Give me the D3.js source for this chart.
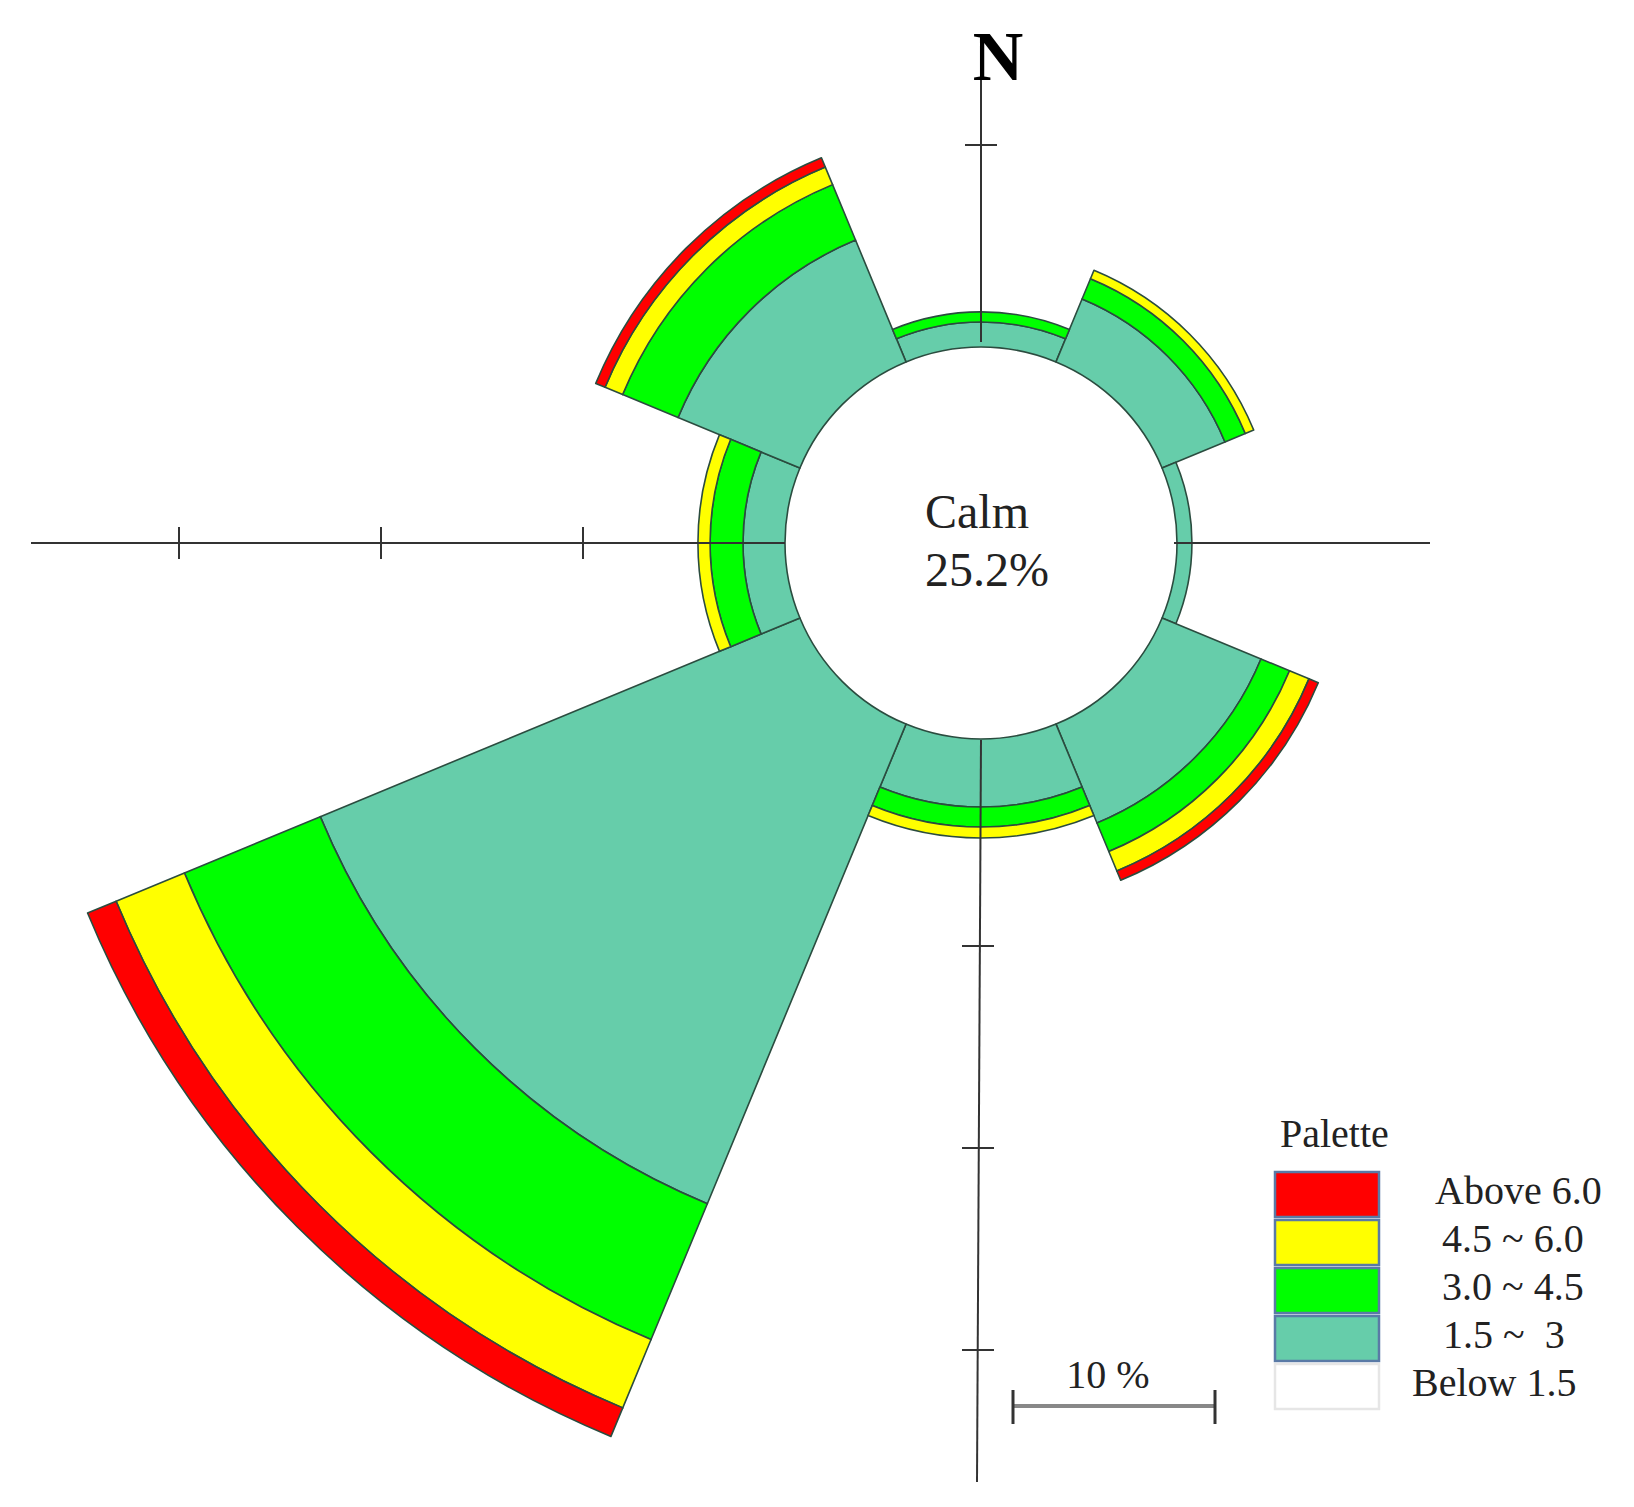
<!DOCTYPE html>
<html lang="en">
<head>
	<meta charset="utf-8" />
	<title>Wind rose</title>
	<script src="https://d3js.org/d3.v7.min.js"></script>
	<style>
		body { margin: 0; background: #fff; }
		text { font-family: "Liberation Serif", "Times New Roman", serif; white-space: pre; }
	</style>
</head>
<body>
	<div id="my_dataviz"></div>

	<script>
		// wind directions, clockwise from north
		var directions = ["N", "NE", "E", "SE", "S", "SW", "W", "NW"];

		// frequency (%) for each speed class, per direction
		var below15 = [0, 0, 0, 0, 0, 0, 0, 0];
		var from15to3 = [1.24, 3.37, 0.74, 5.3, 3.37, 25.7, 2.08, 6.53];
		var from3to45 = [0.5, 1.09, 0, 1.53, 0.99, 7.28, 1.63, 2.97];
		var from45to6 = [0, 0.45, 0, 1.04, 0.54, 3.66, 0.6, 0.94];
		var above6 = [0, 0, 0, 0.5, 0, 1.53, 0, 0.5];

		var calm = "25.2%";

		// legend
		var classKeys = ["above6", "from45to6", "from3to45", "from15to3", "below15"];
		var classLabels = ["Above 6.0", "4.5 ~ 6.0", "3.0 ~ 4.5", "1.5 ~  3", "Below 1.5"];
		var classColors = ["#ff0000", "#ffff00", "#00ff00", "#66cdaa", "#ffffff"];

		// axis ticks (%)
		var leftTicks = [10, 20, 30];
		var bottomTicks = [10, 20, 30];
		var topTicks = [10];
		var scaleBarValue = 10;

		var width = 1634,
			height = 1507,
			cx = 981,
			cy = 543,
			innerR = 196;

		var svg = d3.select("#my_dataviz")
			.append("svg")
			.attr("width", width)
			.attr("height", height);

		svg.append("rect")
			.attr("width", width)
			.attr("height", height)
			.attr("fill", "#fff");

		var g = svg.append("g")
			.attr("transform", "translate(" + cx + "," + cy + ")");

		// radial scale, starting at the calm circle
		var r = d3.scaleLinear()
			.domain([0, 10])
			.range([innerR, innerR + 202]);

		var color = d3.scaleOrdinal()
			.domain(classKeys)
			.range(classColors);

		// rows for the stack
		var rows = directions.map(function(d, i) {
			return {
				dir: d,
				below15: below15[i],
				from15to3: from15to3[i],
				from3to45: from3to45[i],
				from45to6: from45to6[i],
				above6: above6[i]
			};
		});

		var stackKeys = ["below15", "from15to3", "from3to45", "from45to6", "above6"];
		var series = d3.stack().keys(stackKeys)(rows);

		var angle = d3.scaleBand()
			.domain(directions)
			.range([-Math.PI / 8, 2 * Math.PI - Math.PI / 8]);

		var arc = d3.arc()
			.innerRadius(function(d) { return r(d[0]); })
			.outerRadius(function(d) { return r(d[1]); })
			.startAngle(function(d) { return angle(d.data.dir); })
			.endAngle(function(d) { return angle(d.data.dir) + angle.bandwidth(); });

		g.selectAll("g.band")
			.data(series)
			.enter()
			.append("g")
			.attr("class", "band")
			.attr("fill", function(s) { return color(s.key); })
			.selectAll("path")
			.data(function(s) { return s.filter(function(d) { return d[1] - d[0] > 0; }); })
			.enter()
			.append("path")
			.attr("d", arc)
			.attr("stroke", "#2b4c3f")
			.attr("stroke-width", 1.6)
			.attr("stroke-linejoin", "round");

		// axes (outside the calm circle only)
		var axisColor = "#333";
		var axes = [
			{ x1: -innerR, y1: 0, x2: -950, y2: 0 },
			{ x1: innerR - 3, y1: 0, x2: 449, y2: 0 },
			{ x1: 0, y1: -innerR - 5, x2: 0, y2: -465 },
			{ x1: 0, y1: innerR + 1, x2: -4, y2: 939 }
		];
		g.selectAll("line.axis")
			.data(axes)
			.enter()
			.append("line")
			.attr("class", "axis")
			.attr("x1", function(d) { return d.x1; })
			.attr("y1", function(d) { return d.y1; })
			.attr("x2", function(d) { return d.x2; })
			.attr("y2", function(d) { return d.y2; })
			.attr("stroke", axisColor)
			.attr("stroke-width", 2);

		var tickHalf = 16;
		g.selectAll("line.tleft")
			.data(leftTicks)
			.enter()
			.append("line")
			.attr("x1", function(d) { return -r(d); })
			.attr("x2", function(d) { return -r(d); })
			.attr("y1", -tickHalf)
			.attr("y2", tickHalf)
			.attr("stroke", axisColor)
			.attr("stroke-width", 2);

		g.selectAll("line.tbottom")
			.data(bottomTicks)
			.enter()
			.append("line")
			.attr("y1", function(d) { return r(d) + 5; })
			.attr("y2", function(d) { return r(d) + 5; })
			.attr("x1", function(d) { return -tickHalf - 3; })
			.attr("x2", function(d) { return tickHalf - 3; })
			.attr("stroke", axisColor)
			.attr("stroke-width", 2);

		g.selectAll("line.ttop")
			.data(topTicks)
			.enter()
			.append("line")
			.attr("y1", function(d) { return -r(d); })
			.attr("y2", function(d) { return -r(d); })
			.attr("x1", -tickHalf)
			.attr("x2", tickHalf)
			.attr("stroke", axisColor)
			.attr("stroke-width", 2);

		// north label
		g.append("text")
			.attr("x", 17)
			.attr("y", -463)
			.attr("text-anchor", "middle")
			.style("font-size", "70px")
			.style("font-weight", "bold")
			.attr("fill", "#000")
			.text("N");

		// calm label
		g.append("text")
			.attr("x", -56)
			.attr("y", -15)
			.style("font-size", "48px")
			.attr("fill", "#222")
			.text("Calm");
		g.append("text")
			.attr("x", -56)
			.attr("y", 43)
			.style("font-size", "48px")
			.attr("fill", "#222")
			.text(calm);

		// scale bar
		var sbX = 1013, sbY = 1406;
		var sbLen = r(scaleBarValue) - r(0);
		svg.append("line")
			.attr("x1", sbX).attr("x2", sbX + sbLen)
			.attr("y1", sbY).attr("y2", sbY)
			.attr("stroke", "#888")
			.attr("stroke-width", 4);
		svg.selectAll("line.sbend")
			.data([0, sbLen])
			.enter()
			.append("line")
			.attr("x1", function(d) { return sbX + d; })
			.attr("x2", function(d) { return sbX + d; })
			.attr("y1", sbY - 16)
			.attr("y2", sbY + 18)
			.attr("stroke", "#333")
			.attr("stroke-width", 3);
		svg.append("text")
			.attr("x", sbX + sbLen / 2 - 6)
			.attr("y", sbY - 18)
			.attr("text-anchor", "middle")
			.style("font-size", "40px")
			.attr("fill", "#222")
			.text(scaleBarValue + " %");

		// legend
		var legend = svg.append("g").attr("transform", "translate(1275,1172)");
		legend.append("text")
			.attr("x", 5)
			.attr("y", -25)
			.style("font-size", "40px")
			.attr("fill", "#222")
			.text("Palette");

		var legendX = [160, 167, 167, 168, 137];
		var item = legend.selectAll("g.item")
			.data(classKeys)
			.enter()
			.append("g")
			.attr("transform", function(d, i) { return "translate(0," + (i * 48) + ")"; });
		item.append("rect")
			.attr("width", 104)
			.attr("height", 45)
			.attr("fill", function(d) { return color(d); })
			.attr("stroke", function(d) { return d === "below15" ? "#e6e6e6" : "#5a7aa6"; })
			.attr("stroke-width", 2.5);
		item.append("text")
			.attr("x", function(d, i) { return legendX[i]; })
			.attr("y", 32)
			.style("font-size", "40px")
			.attr("fill", "#222")
			.text(function(d, i) { return classLabels[i]; });
	</script>
</body>
</html>
